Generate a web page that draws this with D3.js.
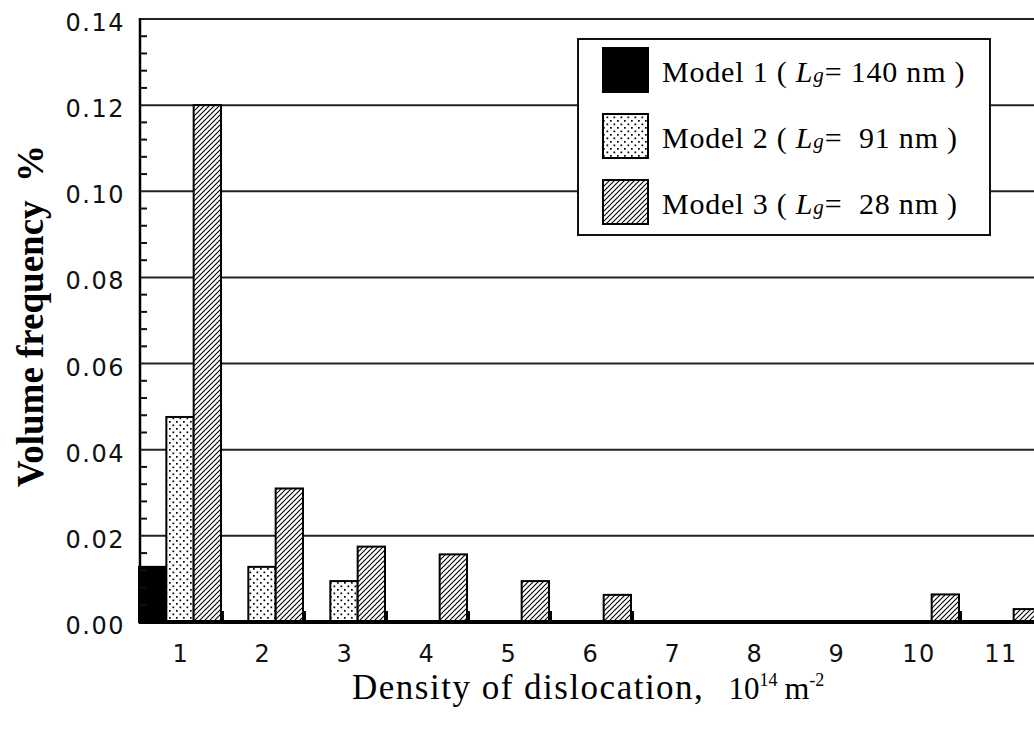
<!DOCTYPE html>
<html lang="en">
<head>
<meta charset="UTF-8">
<title>Volume frequency vs density of dislocation</title>
<style>
    body { margin: 0; background: #fff; }
    svg { display: block; background: #fff; }
    .tick-label { font-family: "DejaVu Sans", sans-serif; font-size: 24px; letter-spacing: 1.5px; fill: #111; }
    .serif { font-family: "Liberation Serif", "Times New Roman", serif; fill: #000; }
</style>
</head>
<body>
<svg></svg>
<script src="https://cdn.jsdelivr.net/npm/d3@7/dist/d3.min.js"></script>
<script>
    /* data */
    const categories = ["1", "2", "3", "4", "5", "6", "7", "8", "9", "10", "11"];
    const model1 = [0.0128, 0, 0, 0, 0, 0, 0, 0, 0, 0, 0];
    const model2 = [0.0476, 0.0128, 0.0095, 0, 0, 0, 0, 0, 0, 0, 0];
    const model3 = [0.120, 0.031, 0.0175, 0.0157, 0.0095, 0.0063, 0, 0, 0, 0.0064, 0.003];
    const seriesNames = ["Model 1", "Model 2", "Model 3"];
    const seriesLg = ["140", " 91", " 28"];
    const yTicks = [0, 0.02, 0.04, 0.06, 0.08, 0.10, 0.12, 0.14];

    /* layout */
    const width = 1034;
    const height = 729;
    const left = 139;
    const plotRight = 1041;   // plot runs past the right edge of the picture
    const baseY = 622;
    const topY = 19;

    const svg = d3.select("svg")
        .attr("width", width)
        .attr("height", height);

    const defs = svg.append("defs");
    /* dotted fill */
    const dots = defs.append("pattern")
        .attr("id", "dots")
        .attr("patternUnits", "userSpaceOnUse")
        .attr("width", 7).attr("height", 7);
    dots.append("rect").attr("width", 7).attr("height", 7).attr("fill", "#fff");
    dots.append("rect").attr("x", 1).attr("y", 1).attr("width", 1.7).attr("height", 1.7).attr("fill", "#000");
    dots.append("rect").attr("x", 4.5).attr("y", 4.5).attr("width", 1.7).attr("height", 1.7).attr("fill", "#000");
    /* hatched fill */
    const hatch = defs.append("pattern")
        .attr("id", "hatch")
        .attr("patternUnits", "userSpaceOnUse")
        .attr("width", 5).attr("height", 5);
    hatch.append("rect").attr("width", 5).attr("height", 5).attr("fill", "#fff");
    hatch.append("path")
        .attr("d", "M-1,1 L1,-1 M0,5 L5,0 M4,6 L6,4")
        .attr("stroke", "#000")
        .attr("stroke-width", 1.1);

    const fills = ["#000", "url(#dots)", "url(#hatch)"];
    const series = [model1, model2, model3];

    /* scales */
    const x = d3.scaleBand().domain(categories).range([left, plotRight]).padding(0);
    const xSub = d3.scaleBand().domain(d3.range(series.length)).range([0, x.bandwidth()]).padding(0);
    const y = d3.scaleLinear().domain([0, 0.14]).range([baseY, topY]);

    /* grid lines */
    svg.append("g").selectAll("line").data(yTicks.slice(1)).enter().append("line")
        .attr("x1", left).attr("x2", width)
        .attr("y1", d => y(d)).attr("y2", d => y(d))
        .attr("stroke", "#222")
        .attr("stroke-width", 2);

    /* bars */
    series.forEach((vals, i) => {
        svg.append("g").selectAll("rect")
            .data(vals.map((v, j) => ({ v: v, cat: categories[j] })).filter(d => d.v > 0))
            .enter().append("rect")
            .attr("x", d => x(d.cat) + xSub(i))
            .attr("y", d => y(d.v))
            .attr("width", xSub.bandwidth())
            .attr("height", d => y(0) - y(d.v))
            .attr("fill", fills[i])
            .attr("stroke", "#000")
            .attr("stroke-width", 2);
    });

    /* little dark foot right of each hatched bar */
    svg.append("g").selectAll("rect")
        .data(categories.filter((c, j) => model3[j] > 0))
        .enter().append("rect")
        .attr("x", d => x(d) + x.bandwidth())
        .attr("y", y(0) - 11)
        .attr("width", 3)
        .attr("height", 11)
        .attr("fill", "#000");

    /* base line */
    svg.append("line")
        .attr("x1", left).attr("x2", width)
        .attr("y1", y(0)).attr("y2", y(0))
        .attr("stroke", "#000")
        .attr("stroke-width", 4);

    /* y axis with inward minor ticks */
    svg.append("line")
        .attr("x1", left + 1).attr("x2", left + 1)
        .attr("y1", y(0.14) - 1).attr("y2", y(0) + 2)
        .attr("stroke", "#000")
        .attr("stroke-width", 2.5);
    const minor = d3.range(0, 0.14, 0.004).filter(v => Math.round(v * 1000) % 20 !== 0);
    svg.append("g").selectAll("line").data(minor).enter().append("line")
        .attr("x1", left + 1).attr("x2", left + 8)
        .attr("y1", d => y(d)).attr("y2", d => y(d))
        .attr("stroke", "#111")
        .attr("stroke-width", 2);

    svg.append("g").selectAll("text").data(yTicks).enter().append("text")
        .attr("class", "tick-label")
        .attr("x", 125)
        .attr("y", d => y(d) + 4)
        .attr("text-anchor", "end")
        .attr("dominant-baseline", "central")
        .text(d => d3.format(".2f")(d));

    /* x tick labels */
    svg.append("g").selectAll("text").data(categories).enter().append("text")
        .attr("class", "tick-label")
        .attr("x", d => x(d) + x.bandwidth() / 2 + 1)
        .attr("y", 662)
        .attr("text-anchor", "middle")
        .text(d => d);

    /* axis titles */
    svg.append("text")
        .attr("class", "serif")
        .attr("transform", "translate(43,316) rotate(-90)")
        .attr("text-anchor", "middle")
        .attr("xml:space", "preserve")
        .style("white-space", "pre")
        .style("font-size", "37px")
        .style("font-weight", "bold")
        .text("Volume frequency  %");

    const xt = svg.append("text")
        .attr("class", "serif")
        .attr("x", 352)
        .attr("y", 699)
        .style("font-size", "35px")
        .style("letter-spacing", "1.5px");
    xt.append("tspan").text("Density of dislocation,");
    xt.append("tspan").attr("dx", 24).style("font-size", "31px").style("letter-spacing", "0px").text("10");
    xt.append("tspan").attr("dy", -13).style("font-size", "18px").style("letter-spacing", "0px").text("14");
    xt.append("tspan").attr("dy", 13).attr("dx", 7).style("font-size", "32px").style("letter-spacing", "0px").text("m");
    xt.append("tspan").attr("dy", -13).style("font-size", "18px").style("letter-spacing", "0px").text("-2");

    /* legend */
    const lg = svg.append("g");
    lg.append("rect")
        .attr("x", 578).attr("y", 39)
        .attr("width", 412).attr("height", 196)
        .attr("fill", "#fff")
        .attr("stroke", "#111")
        .attr("stroke-width", 2);
    const legendY = d3.scalePoint().domain(d3.range(series.length)).range([70, 202]);
    seriesNames.forEach((name, i) => {
        const cy = legendY(i);
        lg.append("rect")
            .attr("x", 603).attr("y", cy - 22)
            .attr("width", 45).attr("height", 44)
            .attr("fill", fills[i])
            .attr("stroke", "#000")
            .attr("stroke-width", 2);
        const t = lg.append("text")
            .attr("class", "serif")
            .attr("x", 662)
            .attr("y", cy + 12)
            .attr("xml:space", "preserve")
            .style("white-space", "pre")
            .style("font-size", "30px")
            .style("letter-spacing", "0.8px");
        t.append("tspan").text(`${name} ( `);
        t.append("tspan").style("font-style", "italic").text("L");
        t.append("tspan").style("font-style", "italic").style("font-size", "21px").text("g");
        t.append("tspan").text(`= ${seriesLg[i]} nm )`);
    });
</script>
</body>
</html>
